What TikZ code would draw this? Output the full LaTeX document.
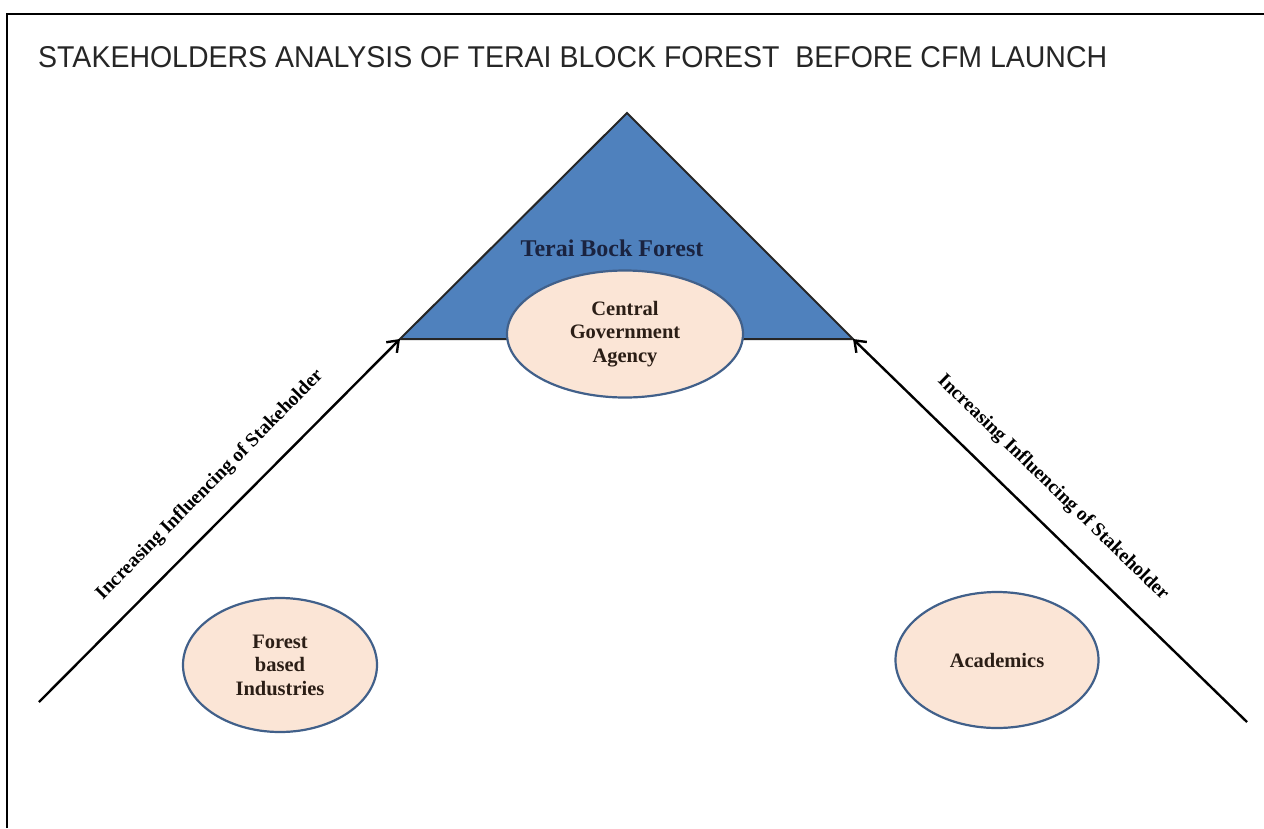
\documentclass[tikz,border=0pt]{standalone}
\usepackage{fontspec}
\setmainfont{Liberation Serif}
\newfontfamily\titlefont{Liberation Sans}
\usetikzlibrary{shapes.geometric,arrows.meta}
\definecolor{triblue}{HTML}{4F81BD}
\definecolor{peach}{HTML}{FBE5D6}
\definecolor{ellline}{HTML}{41608A}
\definecolor{navy}{HTML}{1A2340}
\definecolor{txtdark}{HTML}{2B1E16}
\begin{document}
\begin{tikzpicture}[x=1pt,y=-1pt,
  stake/.style={ellipse,draw=ellline,line width=2.2pt,fill=peach,inner sep=0pt,align=center,
    font=\bfseries\fontsize{20.5}{23.5}\selectfont,text=txtdark},
  infl/.style={-{Straight Barb[length=10pt,width=15pt]},line width=2.4pt},
  lbl/.style={font=\bfseries\fontsize{19.5}{21}\selectfont,inner sep=0pt}]
\useasboundingbox (0,0) rectangle (1264,828);
\fill[white] (0,0) rectangle (1264,828);
\draw[line width=2pt] (7,828) -- (7,14) -- (1264,14);
\node[anchor=west,inner sep=0pt,text=black!85] (title) at (38,57.5)
  {\resizebox{1069pt}{21pt}{\titlefont\fontsize{30}{30}\selectfont STAKEHOLDERS ANALYSIS OF TERAI BLOCK FOREST\ \ BEFORE CFM LAUNCH}};
\coordinate (apex) at (627,113);
\coordinate (bl) at (400,339);
\coordinate (br) at (853,339);
\draw[fill=triblue,line width=2pt,draw=black!85] (apex) -- (br) -- (bl) -- cycle;
\node[font=\bfseries\fontsize{24}{26}\selectfont,text=navy] (forest) at (612,248) {Terai Bock Forest};
\node[stake,minimum width=236pt,minimum height=127pt] (cga) at (625,334) {Central\\Government\\Agency};
\node[stake,minimum width=194pt,minimum height=134pt] (fbi) at (280,665) {Forest\\based\\Industries};
\node[stake,minimum width=203pt,minimum height=136pt] (acad) at (997,660) {Academics};
\coordinate (ls) at (39,702);
\coordinate (rs) at (1247,722);
\draw[infl] (ls) -- (bl);
\draw[infl] (rs) -- (br);
\node[lbl,rotate=45.4] (lt) at (210,485) {Increasing Influencing of Stakeholder};
\node[lbl,rotate=-44.2] (rt) at (1053,488) {Increasing Influencing of Stakeholder};
\end{tikzpicture}
\end{document}
